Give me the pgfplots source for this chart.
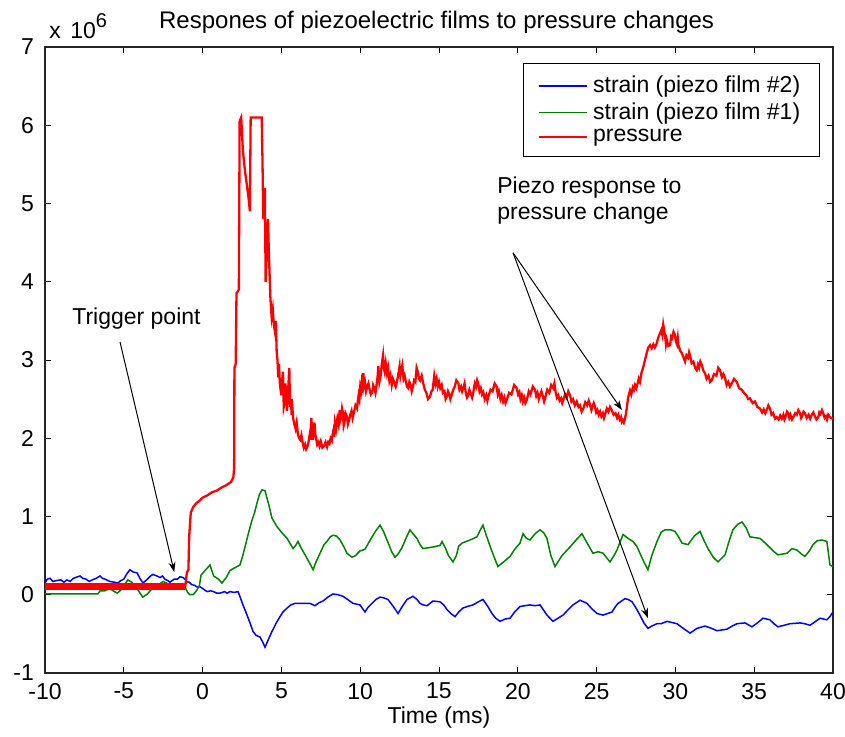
\documentclass[border=0pt]{standalone}
\usepackage{pgfplots}
\pgfplotsset{compat=1.18}
\usepackage{fontspec}
\setmainfont{Liberation Sans}
\usetikzlibrary{arrows.meta}
\definecolor{mblue}{RGB}{0,0,255}
\definecolor{mgreen}{RGB}{0,128,0}
\definecolor{mred}{RGB}{255,0,0}
\begin{document}
\fontsize{11.5pt}{14pt}\selectfont
\begin{tikzpicture}
\useasboundingbox (-22.5pt,-32pt) rectangle (400pt,336.5pt);
\begin{axis}[
  at={(0,0)}, anchor=south west,
  scale only axis, width=394pt, height=313pt,
  xmin=-10, xmax=40, ymin=-1, ymax=7,
  xtick={-10,-5,...,40}, ytick={-1,0,...,7},
  xtick pos=both, ytick pos=both,
  tick align=inside, major tick length=3pt,
  tick style={black, line width=0.5pt},
  axis line style={line width=0.6pt, black!85},
  /pgf/number format/assume math mode=true,
  every tick label/.append style={font=\fontsize{11.5pt}{14pt}\selectfont},
  yticklabel style={xshift=-1.5pt},
  xticklabel style={yshift=-1pt},
  xlabel={Time (ms)},
  every axis x label/.style={at={(axis description cs:0.5,0)}, anchor=center, yshift=-22.5pt, font=\fontsize{11.5pt}{14pt}\selectfont},
  legend cell align=left,
  legend image code/.code={\draw[#1] (0pt,0pt) -- (20pt,0pt); \path (0pt,0pt) -- (24pt,0pt);},
  legend style={at={(rel axis cs:0.9835,0.9744)}, anchor=north east, draw=black, line width=0.6pt,
    font=\fontsize{11.5pt}{14pt}\selectfont, inner xsep=7pt, inner ysep=3.5pt, row sep=-2pt,
    nodes={inner sep=2.6pt}},
  clip mode=individual,
]
\addplot[mblue, line width=0.75pt] coordinates {
(-10,0.15) (-9.85,0.2) (-9.68,0.21) (-9.5,0.17) (-9.3,0.18) (-9.0,0.19) (-8.8,0.16) (-8.6,0.19) (-8.4,0.17) (-8.2,0.21) (-7.78,0.24) (-7.6,0.21) (-7.4,0.2) (-7.2,0.17) (-7.0,0.19) (-6.75,0.21) (-6.51,0.24) (-6.35,0.21) (-6.2,0.2) (-5.88,0.17) (-5.6,0.16) (-5.37,0.15) (-5.2,0.18) (-5.0,0.2) (-4.8,0.27) (-4.61,0.32) (-4.4,0.29) (-4.16,0.28) (-3.95,0.2) (-3.78,0.15) (-3.5,0.2) (-3.3,0.24) (-3.15,0.26) (-2.9,0.24) (-2.70,0.22) (-2.55,0.24) (-2.4,0.2) (-2.2,0.18) (-2.07,0.16) (-1.8,0.2) (-1.6,0.2) (-1.43,0.23) (-1.25,0.22) (-1.12,0.20) (-0.99,0.16) (-0.85,0.16) (-0.7,0.13) (-0.5,0.12) (-0.36,0.10) (-0.15,0.1) (0.0,0.08) (0.28,0.04) (0.5,0.05) (0.7,0.04) (0.9,0.02) (1.10,0.02) (1.4,0.04) (1.55,0.02) (1.74,0.04) (2.0,0.03) (2.25,0.04) (2.4,-0.04) (2.56,-0.13) (2.8,-0.25) (3.01,-0.36) (3.20,-0.47) (3.4,-0.52) (3.64,-0.54) (3.8,-0.6) (3.96,-0.67) (4.2,-0.56) (4.40,-0.47) (4.65,-0.37) (4.91,-0.28) (5.1,-0.22) (5.36,-0.17) (5.6,-0.13) (5.86,-0.11) (6.3,-0.11) (6.81,-0.11) (7.13,-0.14) (7.4,-0.1) (7.64,-0.08) (7.95,-0.03) (8.27,0.01) (8.6,0.0) (8.91,-0.02) (9.2,-0.06) (9.54,-0.11) (9.99,-0.13) (10.30,-0.22) (10.5,-0.16) (10.75,-0.11) (11.0,-0.06) (11.26,-0.03) (11.5,-0.04) (11.76,-0.06) (12.1,-0.15) (12.40,-0.24) (12.7,-0.14) (12.97,-0.06) (13.35,-0.02) (13.6,-0.06) (13.79,-0.11) (14.0,-0.13) (14.24,-0.14) (14.62,-0.08) (15.06,-0.09) (15.3,-0.13) (15.51,-0.19) (15.75,-0.24) (16.02,-0.28) (16.25,-0.22) (16.52,-0.17) (16.8,-0.15) (17.16,-0.13) (17.5,-0.09) (17.79,-0.06) (18.1,-0.15) (18.36,-0.24) (18.6,-0.3) (18.87,-0.34) (19.2,-0.31) (19.51,-0.30) (19.8,-0.22) (20.14,-0.15) (20.45,-0.14) (20.77,-0.13) (21.1,-0.14) (21.41,-0.13) (21.65,-0.2) (21.85,-0.26) (22.23,-0.34) (22.55,-0.3) (22.87,-0.26) (23.2,-0.19) (23.50,-0.13) (23.95,-0.07) (24.39,-0.11) (24.7,-0.18) (25.03,-0.24) (25.41,-0.26) (25.98,-0.22) (26.2,-0.15) (26.36,-0.11) (26.80,-0.05) (27.0,-0.06) (27.25,-0.09) (27.5,-0.17) (27.75,-0.26) (28.0,-0.36) (28.26,-0.43) (28.5,-0.4) (28.83,-0.37) (29.1,-0.37) (29.47,-0.34) (30.10,-0.37) (30.5,-0.43) (30.93,-0.49) (31.37,-0.43) (31.88,-0.40) (32.3,-0.43) (32.64,-0.46) (33.27,-0.44) (33.6,-0.40) (33.91,-0.37) (34.42,-0.36) (34.86,-0.41) (35.2,-0.36) (35.56,-0.30) (36.00,-0.32) (36.25,-0.37) (36.51,-0.41) (36.9,-0.39) (37.27,-0.37) (37.91,-0.36) (38.2,-0.37) (38.54,-0.39) (38.9,-0.34) (39.18,-0.30) (39.61,-0.32) (39.8,-0.28) (40.0,-0.22)
};
\addlegendentry{strain (piezo film \#2)}
\addplot[mgreen, line width=0.75pt] coordinates {
(-10,0.01) (-8,0.01) (-6.65,0.01) (-6.5,0.05) (-6.2,0.05) (-5.9,0.08) (-5.6,0.04) (-5.4,0.02) (-5.1,0.08) (-4.75,0.19) (-4.5,0.16) (-4.2,0.10) (-4.0,0.03) (-3.8,-0.03) (-3.5,0.01) (-3.15,0.09) (-2.8,0.13) (-2.5,0.17) (-2.2,0.14) (-1.9,0.13) (-1.5,0.12) (-1.1,0.09) (-0.95,0.03) (-0.8,0.0) (-0.6,0.0) (-0.36,0.06) (-0.2,0.12) (-0.1,0.25) (0.2,0.32) (0.47,0.38) (0.6,0.3) (0.7,0.24) (1.0,0.2) (1.23,0.15) (1.5,0.22) (1.74,0.31) (2.0,0.34) (2.37,0.38) (2.55,0.5) (2.69,0.61) (2.9,0.78) (3.13,0.95) (3.3,1.05) (3.45,1.17) (3.6,1.28) (3.77,1.34) (3.96,1.33) (4.2,1.15) (4.40,0.98) (4.72,0.87) (5.0,0.8) (5.36,0.72) (5.74,0.59) (5.9,0.63) (6.05,0.68) (6.3,0.58) (6.50,0.51) (6.8,0.4) (7.01,0.32) (7.2,0.42) (7.45,0.53) (7.7,0.64) (7.89,0.68) (8.1,0.74) (8.27,0.76) (8.5,0.75) (8.72,0.70) (9.0,0.6) (9.16,0.53) (9.48,0.48) (9.7,0.5) (9.99,0.56) (10.30,0.58) (10.5,0.65) (10.75,0.74) (11.0,0.82) (11.26,0.89) (11.5,0.8) (11.70,0.70) (12.0,0.55) (12.21,0.48) (12.4,0.52) (12.65,0.60) (12.9,0.72) (13.16,0.83) (13.35,0.78) (13.60,0.72) (13.8,0.64) (13.98,0.59) (14.3,0.6) (14.62,0.61) (15.06,0.63) (15.19,0.68) (15.4,0.6) (15.6,0.5) (15.89,0.42) (16.1,0.5) (16.25,0.62) (16.46,0.66) (16.97,0.70) (17.2,0.72) (17.41,0.74) (17.6,0.82) (17.79,0.89) (18.0,0.76) (18.24,0.62) (18.5,0.48) (18.74,0.36) (19.1,0.42) (19.51,0.49) (19.8,0.58) (20.14,0.66) (20.33,0.78) (20.55,0.72) (20.77,0.70) (21.1,0.78) (21.41,0.83) (21.65,0.79) (21.85,0.72) (22.1,0.5) (22.36,0.36) (22.8,0.5) (23.31,0.61) (23.7,0.7) (24.07,0.78) (24.4,0.66) (24.77,0.53) (25.1,0.55) (25.41,0.53) (25.85,0.42) (26.1,0.5) (26.29,0.57) (26.5,0.68) (26.68,0.77) (27.0,0.72) (27.31,0.68) (27.55,0.62) (27.75,0.53) (28.0,0.42) (28.26,0.32) (28.5,0.5) (28.83,0.68) (29.1,0.8) (29.34,0.83) (29.7,0.83) (29.97,0.81) (30.2,0.74) (30.42,0.66) (30.80,0.64) (31.2,0.75) (31.56,0.81) (31.8,0.7) (32.07,0.59) (32.4,0.48) (32.70,0.42) (33.15,0.51) (33.4,0.68) (33.65,0.83) (33.95,0.9) (34.23,0.93) (34.5,0.85) (34.73,0.74) (35.05,0.73) (35.37,0.72) (35.81,0.64) (36.2,0.56) (36.51,0.51) (37.08,0.53) (37.40,0.59) (37.72,0.57) (38.0,0.52) (38.22,0.49) (38.5,0.56) (38.73,0.64) (39.0,0.69) (39.30,0.70) (39.61,0.68) (39.81,0.38) (40.0,0.36)
};
\addlegendentry{strain (piezo film \#1)}
\addplot[mred, line width=1.15pt] coordinates {
(-1.1,0.1) (-1.0,0.28) (-0.9,0.32) (-0.85,0.75) (-0.75,1.05) (-0.6,1.12) (-0.4,1.17) (-0.2,1.2) (0.0,1.24) (0.3,1.27) (0.6,1.31) (0.9,1.33) (1.2,1.37) (1.5,1.4) (1.8,1.44) (1.95,1.5) (2.0,1.62) (2.02,2.9) (2.1,2.95) (2.15,3.85) (2.3,3.9) (2.35,6.05) (2.45,6.1) (2.55,5.7) (2.62,5.55) (2.7,5.4) (2.8,5.25) (2.9,5.1) (3.0,4.9) (3.05,6.1) (3.75,6.1) (3.8,5.55) (3.85,4.8) (3.95,5.2) (4.0,4.0) (4.08,4.45) (4.15,4.8) (4.2,4.4) (4.3,3.8) (4.38,3.55) (4.45,3.65) (4.52,3.45) (4.6,3.35) (4.65,3.5) (4.7,3.1) (4.75,3.0) (4.8,2.78) (4.85,2.95) (4.9,2.7) (4.95,2.62) (5.0,2.55) (5.05,2.75) (5.1,2.85) (5.15,2.4) (5.2,2.45) (5.25,2.7) (5.3,2.6) (5.35,2.35) (5.4,2.5) (5.45,2.7) (5.5,2.9) (5.55,2.4) (5.6,2.5) (5.65,2.3) (5.7,2.38) (5.75,2.25) (5.82,2.18) (5.9,2.12) (5.97,2.2) (6.05,2.05) (6.12,2.0) (6.2,1.98) (6.27,2.04) (6.35,1.94) (6.42,1.88) (6.5,1.92) (6.57,1.86) (6.65,1.89) (6.72,1.95) (6.8,2.05) (6.85,1.98) (6.9,2.26) (6.95,2.1) (7.0,1.98) (7.05,2.12) (7.1,2.2) (7.15,2.05) (7.2,2.0) (7.27,1.92) (7.35,1.95) (7.42,1.9) (7.5,1.96) (7.6,1.88) (7.7,1.9) (7.8,1.95) (7.9,1.89) (7.97,1.95) (8.05,1.93) (8.12,2.0) (8.2,1.97) (8.25,2.05)
(8.3,2.1) (8.35,2.02) (8.4,2.2) (8.47,2.12) (8.55,2.25) (8.62,2.18) (8.7,2.36) (8.75,2.24) (8.8,2.28) (8.85,2.38) (8.9,2.33) (8.95,2.16) (9.0,2.2) (9.07,2.32) (9.15,2.28) (9.22,2.18) (9.3,2.24) (9.37,2.3) (9.45,2.35) (9.52,2.26) (9.6,2.33) (9.7,2.42) (9.8,2.38) (9.85,2.48) (9.9,2.55) (9.95,2.5) (10.0,2.65) (10.05,2.6) (10.1,2.72) (10.15,2.66) (10.2,2.83) (10.25,2.68) (10.3,2.72) (10.37,2.6) (10.45,2.66) (10.52,2.7) (10.6,2.62) (10.67,2.56) (10.75,2.58) (10.82,2.68) (10.9,2.64) (10.97,2.58) (11.05,2.7) (11.1,2.78) (11.15,2.92) (11.22,2.72) (11.3,2.8) (11.37,2.95) (11.45,3.06) (11.5,2.9) (11.55,2.85) (11.62,2.96) (11.7,2.83) (11.77,2.9) (11.85,2.74) (11.92,2.8) (12.0,2.68) (12.07,2.76) (12.15,2.72) (12.25,2.66) (12.35,2.74) (12.42,2.82) (12.5,2.92) (12.55,2.8) (12.6,2.86) (12.67,2.93) (12.75,2.76) (12.82,2.8) (12.9,2.72) (12.97,2.66) (13.05,2.64) (13.12,2.72) (13.2,2.68) (13.27,2.6) (13.35,2.66) (13.42,2.74) (13.5,2.72) (13.58,2.9) (13.67,2.84) (13.73,2.76) (13.8,2.74) (13.9,2.8) (14.0,2.7) (14.1,2.62) (14.2,2.58) (14.3,2.5) (14.43,2.53) (14.52,2.6) (14.6,2.62) (14.7,2.8) (14.78,2.7) (14.85,2.76) (14.92,2.66) (15.0,2.72) (15.08,2.64) (15.17,2.68) (15.25,2.58) (15.35,2.6) (15.42,2.5) (15.49,2.53) (15.57,2.6) (15.65,2.56) (15.72,2.5) (15.8,2.55) (15.9,2.62) (16.0,2.66) (16.1,2.74) (16.23,2.70) (16.3,2.62) (16.4,2.66) (16.47,2.6) (16.54,2.64) (16.62,2.7) (16.7,2.58) (16.78,2.52) (16.86,2.55) (16.93,2.62) (17.0,2.58) (17.1,2.52) (17.18,2.59) (17.27,2.7) (17.35,2.66) (17.42,2.74) (17.49,2.70) (17.57,2.6) (17.65,2.64) (17.73,2.56) (17.81,2.59) (17.9,2.5) (18.0,2.55) (18.07,2.48) (18.13,2.53) (18.27,2.62) (18.4,2.6) (18.53,2.7) (18.66,2.66) (18.73,2.56) (18.8,2.6) (18.9,2.5) (18.98,2.55) (19.07,2.47) (19.15,2.52) (19.22,2.45) (19.30,2.49) (19.45,2.58) (19.6,2.56) (19.77,2.68) (19.93,2.64) (20.02,2.56) (20.1,2.59) (20.17,2.5) (20.25,2.55) (20.32,2.47) (20.4,2.52) (20.48,2.45) (20.57,2.49) (20.7,2.6) (20.8,2.56) (20.95,2.66) (21.09,2.62) (21.17,2.54) (21.25,2.58) (21.33,2.5) (21.41,2.55) (21.5,2.6) (21.6,2.53) (21.67,2.47) (21.73,2.51) (21.87,2.62) (22.0,2.58) (22.12,2.68) (22.25,2.64) (22.32,2.7) (22.4,2.59) (22.48,2.52) (22.57,2.55) (22.65,2.48) (22.75,2.51) (22.82,2.45) (22.89,2.49) (23.0,2.56) (23.1,2.52) (23.2,2.6) (23.31,2.55) (23.4,2.47) (23.5,2.5) (23.62,2.42) (23.74,2.47) (23.85,2.4) (23.95,2.42) (24.05,2.34) (24.16,2.38) (24.28,2.46) (24.4,2.42) (24.5,2.48) (24.58,2.43) (24.67,2.36) (24.75,2.41) (24.82,2.45) (24.90,2.40) (24.97,2.33) (25.05,2.36) (25.13,2.3) (25.22,2.34) (25.3,2.28) (25.4,2.32) (25.47,2.26) (25.53,2.30) (25.65,2.38) (25.75,2.34) (25.85,2.4) (25.96,2.36) (26.08,2.3) (26.2,2.32) (26.3,2.26) (26.38,2.30) (26.47,2.24) (26.55,2.27) (26.6,2.21) (26.66,2.23) (26.73,2.2) (26.8,2.25) (26.85,2.3) (26.91,2.38) (27.0,2.52) (27.12,2.61) (27.2,2.56) (27.3,2.65) (27.37,2.62) (27.44,2.68) (27.52,2.64) (27.6,2.70) (27.67,2.76) (27.75,2.72) (27.85,2.84) (27.96,2.91) (28.07,3.0) (28.18,3.09) (28.28,3.16) (28.39,3.19) (28.5,3.15) (28.6,3.2) (28.7,3.16) (28.81,3.21) (28.9,3.28) (29.02,3.34) (29.1,3.38) (29.17,3.32) (29.23,3.45) (29.3,3.36) (29.35,3.3) (29.4,3.2) (29.45,3.26) (29.55,3.18) (29.66,3.19) (29.73,3.3) (29.8,3.28) (29.88,3.36) (29.97,3.32) (30.03,3.24) (30.1,3.2) (30.15,3.28) (30.19,3.19) (30.3,3.12) (30.40,3.09) (30.5,3.04) (30.61,2.98) (30.7,3.06) (30.8,3.03) (30.87,3.1) (30.93,3.06) (31.03,2.96) (31.14,2.98) (31.25,2.9) (31.35,2.87) (31.43,2.94) (31.5,2.9) (31.58,2.98) (31.67,2.94) (31.78,2.86) (31.88,2.83) (31.98,2.76) (32.1,2.8) (32.2,2.72) (32.30,2.74) (32.45,2.82) (32.6,2.8) (32.72,2.9) (32.83,2.87) (32.95,2.78) (33.05,2.82) (33.15,2.77) (33.25,2.68) (33.35,2.72) (33.46,2.66) (33.57,2.70) (33.72,2.76) (33.89,2.72) (34.05,2.64) (34.21,2.62) (34.35,2.58) (34.5,2.55) (34.62,2.5) (34.73,2.51) (34.9,2.45) (35.05,2.47) (35.2,2.4) (35.37,2.38) (35.5,2.33) (35.6,2.37) (35.7,2.32) (35.79,2.36) (35.9,2.42) (36.0,2.38) (36.1,2.3) (36.2,2.32) (36.32,2.25) (36.43,2.27) (36.55,2.24) (36.65,2.29) (36.75,2.25) (36.85,2.30) (36.92,2.24) (37.0,2.28) (37.08,2.34) (37.16,2.32) (37.23,2.26) (37.3,2.3) (37.4,2.24) (37.48,2.27) (37.6,2.32) (37.7,2.3) (37.8,2.36) (37.91,2.32) (37.98,2.26) (38.05,2.29) (38.13,2.34) (38.22,2.32) (38.33,2.26) (38.45,2.3) (38.55,2.25) (38.65,2.30) (38.75,2.33) (38.85,2.28) (38.95,2.24) (39.07,2.27) (39.13,2.33) (39.2,2.31) (39.3,2.36) (39.38,2.32) (39.47,2.26) (39.55,2.28) (39.62,2.24) (39.70,2.30) (39.85,2.26) (40.0,2.25)
};
\addlegendentry{pressure}
\addplot[mred, line width=3.5pt, forget plot] coordinates {(-10,0.1) (-1.1,0.1)};
% annotations
\node[anchor=base west, inner sep=0pt, font=\fontsize{11.5pt}{14pt}\selectfont] at (axis cs:-8.29,3.45) {Trigger point};
\draw[black, line width=0.5pt, -{Stealth[length=5pt,width=3.5pt]}] (axis cs:-5.24,3.23) -- (axis cs:-1.8,0.29);
\node[anchor=base west, inner sep=0pt, align=left, font=\fontsize{11.5pt}{13.3pt}\selectfont] at (axis cs:18.68,4.79) {Piezo response to\\pressure change};
\draw[black, line width=0.5pt, -{Stealth[length=5pt,width=3.5pt]}] (axis cs:19.70,4.37) -- (axis cs:26.61,2.36);
\draw[black, line width=0.5pt, -{Stealth[length=5pt,width=3.5pt]}] (axis cs:19.70,4.37) -- (axis cs:28.26,-0.30);
% title and exponent
\node[anchor=center, inner sep=0pt, font=\fontsize{12pt}{14pt}\selectfont] at ([yshift=12.5pt]rel axis cs:0.497,1) {Respones of piezoelectric films to pressure changes};
\node[anchor=base west, inner sep=0pt] at ([xshift=2pt,yshift=4.5pt]rel axis cs:0,1) {x\hspace{1.5pt} 10\raisebox{5.5pt}{\fontsize{10pt}{10pt}\selectfont 6}};
\end{axis}
\end{tikzpicture}
\end{document}
